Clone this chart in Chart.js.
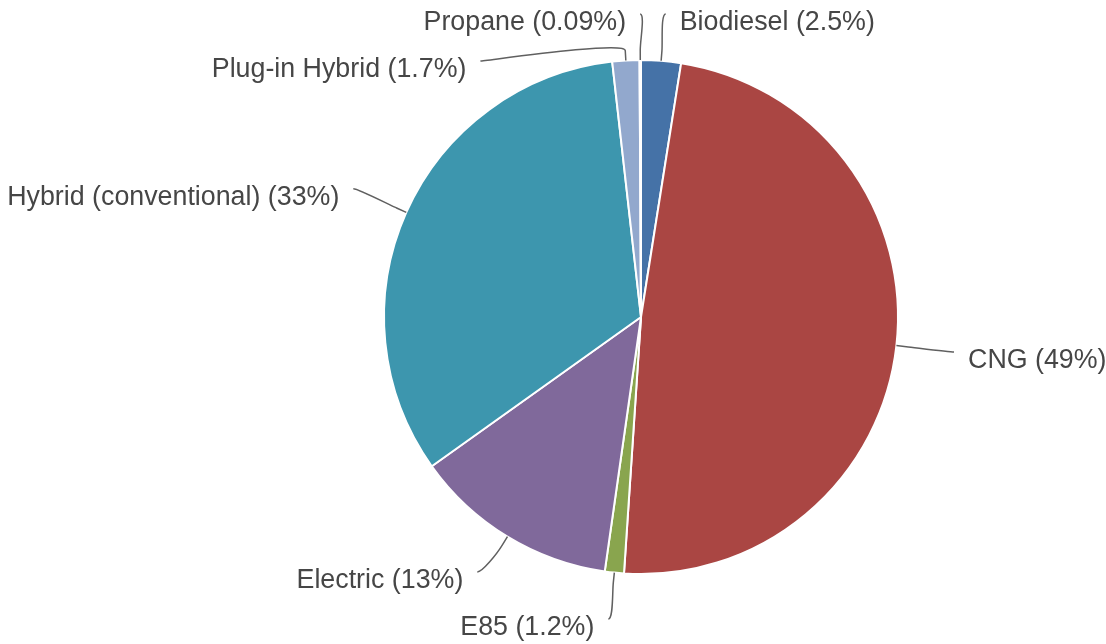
<!DOCTYPE html>
<html>
<head>
<meta charset="utf-8">
<script src="https://cdn.jsdelivr.net/npm/chart.js@4/dist/chart.umd.min.js"></script>
<style>
  html, body { margin: 0; padding: 0; background: #fff; }
  #wrap { width: 1106px; height: 644px; position: relative; }
</style>
</head>
<body>
<div id="wrap"><canvas id="pieChart"></canvas></div>
<script>
// data (percent share)
var fuelTypes = ['Biodiesel', 'CNG', 'E85', 'Electric', 'Hybrid (conventional)', 'Plug-in Hybrid', 'Propane'];
var fuelShares = [2.5, 48.6, 1.2, 12.9, 33.1, 1.7, 0.09];
var sliceColors = ['#4572A7', '#AA4643', '#89A54E', '#80699B', '#3D96AE', '#92A8CD', '#A47D7C'];

/*
==================================
    Outside labels with connectors
==================================
*/
var outsideLabels = {
    id: 'outsideLabels',
    afterDatasetsDraw: function(chart) {
        var ctx = chart.ctx;
        var meta = chart.getDatasetMeta(0);
        var H = chart.height;
        var dist = 58, push = 44, step = 47, topY = 14, botY = H - 25;
        var items = [];
        meta.data.forEach(function(arc, i) {
            var mid = (arc.startAngle + arc.endAngle) / 2;
            var r = arc.outerRadius;
            var v = fuelShares[i];
            items.push({
                mid: mid,
                cx: arc.x, cy: arc.y, r: r, R: r + dist,
                left: Math.cos(mid) < 0 || mid > Math.PI * 1.4,
                y: arc.y + Math.sin(mid) * (r + dist),
                text: fuelTypes[i] + ' (' + Number(v.toPrecision(2)) + '%)'
            });
        });
        var halves = [[], []];
        items.forEach(function(it) { halves[it.left ? 1 : 0].push(it); });
        halves.forEach(function(list) {
            list.sort(function(a, b) { return a.y - b.y; });
            for (var k = 1; k < list.length; k++) {
                if (list[k].y < list[k - 1].y + push) list[k].y = list[k - 1].y + push;
            }
            list.forEach(function(it, k) {
                var dy = it.y - it.cy;
                var dx = Math.sqrt(Math.max(0, it.R * it.R - dy * dy));
                it.x = it.cx + (it.left ? -dx : dx);
                it.ly = Math.max(it.y, topY + k * step);
            });
            for (var k = list.length - 1, j = 0; k >= 0; k--, j++) {
                list[k].ly = Math.min(list[k].ly, botY - j * step);
            }
        });
        ctx.save();
        ctx.font = '26.8px "Liberation Sans", Arial, sans-serif';
        ctx.textBaseline = 'middle';
        items.forEach(function(it) {
            var s = it.left ? -1 : 1;
            var ex = it.cx + Math.cos(it.mid) * it.r, ey = it.cy + Math.sin(it.mid) * it.r;
            var bx = it.cx + Math.cos(it.mid) * (it.r + 10), by = it.cy + Math.sin(it.mid) * (it.r + 10);
            ctx.beginPath();
            ctx.moveTo(it.x, it.ly);
            ctx.bezierCurveTo(it.x - s * 5, it.ly, 2 * bx - ex, 2 * by - ey, bx, by);
            ctx.lineTo(ex, ey);
            ctx.strokeStyle = '#606060';
            ctx.lineWidth = 1.5;
            ctx.stroke();
            ctx.fillStyle = '#464646';
            ctx.textAlign = it.left ? 'right' : 'left';
            ctx.fillText(it.text, it.x + s * 14, it.ly + 9);
        });
        ctx.restore();
    }
};

var pieChart = new Chart(document.getElementById('pieChart'), {
    type: 'pie',
    data: {
        labels: fuelTypes,
        datasets: [{
            data: fuelShares,
            backgroundColor: sliceColors,
            borderColor: '#ffffff',
            borderWidth: 2
        }]
    },
    options: {
        responsive: true,
        maintainAspectRatio: false,
        animation: false,
        layout: { padding: { top: 59, bottom: 69, left: 383, right: 207 } },
        plugins: {
            legend: { display: false },
            tooltip: { enabled: false }
        }
    },
    plugins: [outsideLabels]
});
</script>
</body>
</html>
